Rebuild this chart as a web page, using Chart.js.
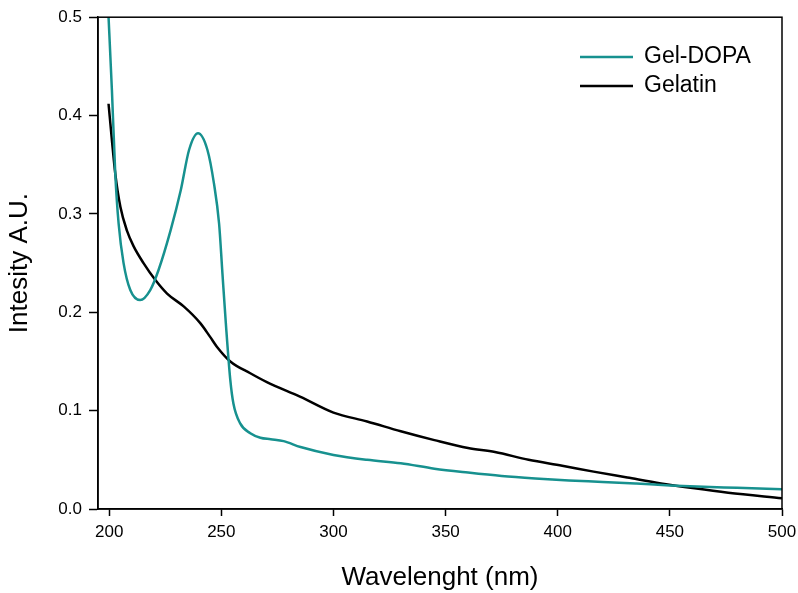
<!DOCTYPE html>
<html>
<head>
<meta charset="utf-8">
<script src="https://cdn.jsdelivr.net/npm/chart.js@4/dist/chart.umd.min.js"></script>
<style>
  html, body { margin: 0; padding: 0; background: #fff; overflow: hidden; }
  #wrap { width: 798px; height: 593px; }
</style>
</head>
<body>
<div id="wrap"><canvas id="chart1"></canvas></div>
<script>
var teal = '#17918f';
var black = '#000000';

// Gel-DOPA spectrum
var dopaX = [199.5, 201.2, 202.7, 204.2, 206.4, 209.4, 213.8, 218.3, 222, 227.4, 231.9, 235.6, 239.6, 243.8, 246.7, 249, 250.5, 252, 254, 255.4, 258.4, 262.9, 267.4, 272, 277.8, 285.3, 300, 315, 330, 345, 360, 375, 390, 405, 420, 435, 450, 465, 480, 500];
var dopaY = [0.51, 0.426, 0.341, 0.290, 0.250, 0.2226, 0.2124, 0.2226, 0.243, 0.2835, 0.324, 0.365, 0.382, 0.365, 0.331, 0.290, 0.239, 0.189, 0.131, 0.107, 0.087, 0.077, 0.0725, 0.071, 0.069, 0.063, 0.055, 0.050, 0.0465, 0.041, 0.037, 0.0335, 0.031, 0.029, 0.0275, 0.0258, 0.024, 0.0225, 0.0215, 0.020];

// Gelatin spectrum
var gelX = [199.7, 201.2, 202.7, 205, 207.9, 210.9, 215.3, 220.5, 225.8, 233.2, 240.6, 245, 248, 254, 262.9, 270.3, 285.3, 300, 315, 330, 345, 360, 372, 387, 402, 416, 431, 446, 461, 476, 500];
var gelY = [0.412, 0.375, 0.341, 0.307, 0.283, 0.267, 0.250, 0.233, 0.219, 0.206, 0.189, 0.175, 0.165, 0.150, 0.138, 0.129, 0.114, 0.098, 0.089, 0.079, 0.070, 0.062, 0.058, 0.050, 0.044, 0.038, 0.032, 0.026, 0.021, 0.0166, 0.011];

var xTicks = [200, 250, 300, 350, 400, 450, 500];
var yTicks = [0, 0.1, 0.2, 0.3, 0.4, 0.5];

function pts(xs, ys) {
    return xs.map(function (x, i) { return { x: x, y: ys[i] }; });
}

// box round the plot + legend inside the top right corner
var framePlugin = {
    id: 'frame',
    afterDraw: function (chart) {
        var ctx = chart.ctx, a = chart.chartArea;
        ctx.save();
        ctx.strokeStyle = '#000';
        ctx.lineWidth = 1.5;
        ctx.strokeRect(a.left, a.top, a.right - a.left, a.bottom - a.top);

        ctx.font = '23px Arial, "Liberation Sans", sans-serif';
        ctx.textBaseline = 'middle';
        ctx.fillStyle = '#000';
        chart.data.datasets.forEach(function (ds, i) {
            var y = 57 + i * 29;
            ctx.strokeStyle = ds.borderColor;
            ctx.lineWidth = 2.5;
            ctx.beginPath();
            ctx.moveTo(580, y);
            ctx.lineTo(633, y);
            ctx.stroke();
            ctx.fillText(ds.label, 644, y);
        });
        ctx.restore();
    }
};

var ctx1 = document.querySelector('canvas#chart1').getContext('2d');

var chart1 = new Chart(ctx1, {
    type: 'line',
    data: {
        datasets: [{
            label: 'Gel-DOPA',
            data: pts(dopaX, dopaY),
            borderColor: teal,
            backgroundColor: teal,
            borderWidth: 2.5,
            pointRadius: 0,
            cubicInterpolationMode: 'monotone'
        },
        {
            label: 'Gelatin',
            data: pts(gelX, gelY),
            borderColor: black,
            backgroundColor: black,
            borderWidth: 2.5,
            pointRadius: 0,
            cubicInterpolationMode: 'monotone'
        }]
    },
    options: {
        responsive: true,
        maintainAspectRatio: false,
        animation: false,
        layout: { padding: { left: 0, right: 16, top: 17, bottom: 0 } },
        plugins: {
            legend: { display: false },
            tooltip: { enabled: false }
        },
        scales: {
            x: {
                type: 'linear',
                min: 195,
                max: 500,
                afterBuildTicks: function (s) {
                    s.ticks = xTicks.map(function (v) { return { value: v }; });
                },
                afterFit: function (s) {
                    s.height = 84;
                    s.paddingRight = 0;
                },
                grid: { drawOnChartArea: false, tickLength: 7, tickColor: '#000', tickWidth: 1.5 },
                border: { color: '#000', width: 1.5 },
                ticks: {
                    color: '#000',
                    padding: 6,
                    font: { family: 'Arial, "Liberation Sans", sans-serif', size: 17 }
                },
                title: {
                    display: true,
                    text: 'Wavelenght (nm)',
                    color: '#000',
                    padding: { top: 0, bottom: 0 },
                    font: { family: 'Arial, "Liberation Sans", sans-serif', size: 26 }
                }
            },
            y: {
                min: 0,
                max: 0.5,
                afterBuildTicks: function (s) {
                    s.ticks = yTicks.map(function (v) { return { value: v }; });
                },
                afterFit: function (s) { s.width = 98; },
                grid: { drawOnChartArea: false, tickLength: 9, tickColor: '#000', tickWidth: 1.5 },
                border: { color: '#000', width: 1.5 },
                ticks: {
                    color: '#000',
                    padding: 7,
                    font: { family: 'Arial, "Liberation Sans", sans-serif', size: 17 },
                    callback: function (v) { return v.toFixed(1); }
                },
                title: {
                    display: true,
                    text: 'Intesity A.U.',
                    color: '#000',
                    padding: { top: 4, bottom: 0 },
                    font: { family: 'Arial, "Liberation Sans", sans-serif', size: 26 }
                }
            }
        }
    },
    plugins: [framePlugin]
});
</script>
</body>
</html>
